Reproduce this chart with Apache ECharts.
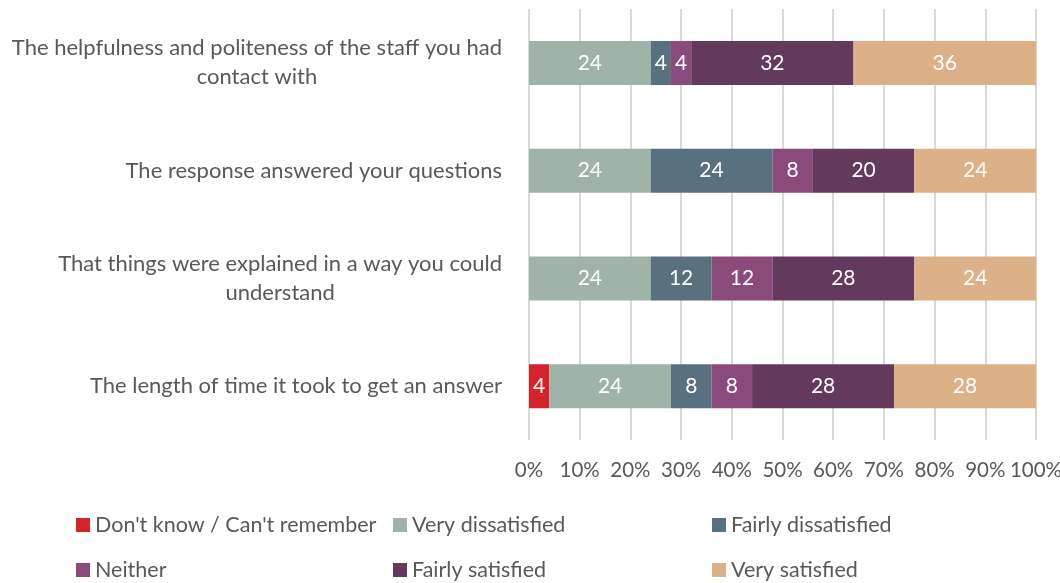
<!DOCTYPE html>
<html>
<head>
<meta charset="utf-8">
<script src="https://cdn.jsdelivr.net/npm/echarts@6/dist/echarts.min.js"></script>
<style>
  html, body { margin: 0; padding: 0; background: #fff; }
  #chart { width: 1060px; height: 583px; }
</style>
</head>
<body>
<div id="chart"></div>
<script>
// Survey statements (top to bottom)
const categories = [
  'The helpfulness and politeness of the staff you had contact with',
  'The response answered your questions',
  'That things were explained in a way you could understand',
  'The length of time it took to get an answer'
];
const seriesNames = [
  "Don't know / Can't remember",
  'Very dissatisfied',
  'Fairly dissatisfied',
  'Neither',
  'Fairly satisfied',
  'Very satisfied'
];
// Percentages per statement, in category order
const dontKnow           = [0, 0, 0, 4];
const veryDissatisfied   = [24, 24, 24, 24];
const fairlyDissatisfied = [4, 24, 12, 8];
const neither            = [4, 8, 12, 8];
const fairlySatisfied    = [32, 20, 28, 28];
const verySatisfied      = [36, 24, 24, 28];
const xTicks = [0, 10, 20, 30, 40, 50, 60, 70, 80, 90, 100];

const colors = ['#D5232B', '#9FB3A8', '#59717F', '#8A4A7B', '#633A5B', '#DCB187'];
const values = [dontKnow, veryDissatisfied, fairlyDissatisfied, neither, fairlySatisfied, verySatisfied];

const FONT = 'Lato, "Open Sans", sans-serif';
const TEXT = '#595959';

// Break a statement into lines of at most 51 characters
function wrap(s) {
  const words = s.split(' ');
  const lines = [];
  let cur = '';
  words.forEach(w => {
    const next = cur ? cur + ' ' + w : w;
    if (next.length > 51 && cur) { lines.push(cur); cur = w; }
    else cur = next;
  });
  if (cur) lines.push(cur);
  return lines.map(l => '{c|' + l + '}').join('\n');
}

// Legend items laid out in a 3-column, 2-row grid
const legendPos = [
  [76, 514], [393, 514], [712, 514],
  [76, 559], [393, 559], [712, 559]
];
const legends = seriesNames.map((n, i) => ({
  data: [n],
  left: legendPos[i][0],
  top: legendPos[i][1],
  padding: 0,
  itemWidth: 14,
  itemHeight: 14,
  itemGap: 0,
  icon: 'rect',
  selectedMode: false,
  textStyle: { fontFamily: FONT, fontSize: 21.5, color: TEXT }
}));

const chart = echarts.init(document.getElementById('chart'), null, { renderer: 'canvas' });
chart.setOption({
  animation: false,
  color: colors,
  grid: { left: 529, right: 24, top: 9, bottom: 143, containLabel: false, outerBoundsMode: 'none' },
  legend: legends,
  xAxis: {
    type: 'value',
    min: 0,
    max: 100,
    interval: 10,
    axisLine: { show: false },
    axisTick: { show: false },
    splitLine: { show: true, lineStyle: { color: '#D9D9D9', width: 2 } },
    axisLabel: {
      margin: 20,
      fontFamily: FONT,
      fontSize: 20.5,
      color: TEXT,
      formatter: v => (xTicks.indexOf(v) >= 0 ? v + '%' : '')
    }
  },
  yAxis: {
    type: 'category',
    inverse: true,
    data: categories,
    axisLine: { show: false },
    axisTick: { show: false },
    axisLabel: {
      margin: 27,
      fontFamily: FONT,
      fontSize: 22,
      color: TEXT,
      formatter: wrap,
      rich: {
        c: { align: 'center', fontFamily: FONT, fontSize: 22, color: TEXT, lineHeight: 29 }
      }
    }
  },
  series: seriesNames.map((n, i) => ({
    name: n,
    type: 'bar',
    stack: 'total',
    barWidth: 44,
    data: values[i],
    itemStyle: { color: colors[i] },
    label: {
      show: true,
      position: 'inside',
      color: '#FFFFFF',
      fontFamily: FONT,
      fontSize: 21,
      formatter: p => (p.value ? String(p.value) : '')
    }
  }))
});
</script>
</body>
</html>
